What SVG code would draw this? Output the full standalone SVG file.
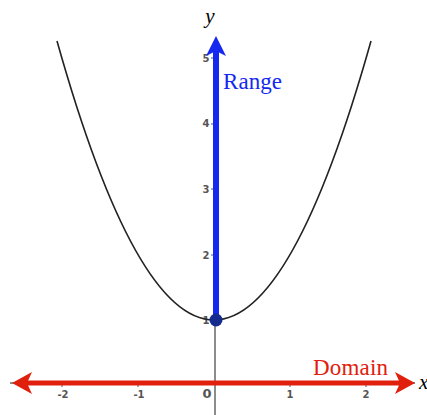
<svg xmlns="http://www.w3.org/2000/svg" width="427" height="415" viewBox="0 0 427 415">
<style>
.tick{font-family:"DejaVu Sans",sans-serif;font-size:10px;font-weight:bold;fill:#555}
.axis{stroke:#666;stroke-width:1.5;fill:none}
.tm{stroke:#555;stroke-width:1}
.lbl{font-family:"Liberation Serif",serif;font-size:23px}
</style>
<rect width="427" height="415" fill="#fff"/>
<g id="axes">
<line class="axis" x1="215" y1="40" x2="215" y2="415"/>
<line class="axis" x1="10" y1="383" x2="415" y2="383"/>
<g class="tm">
<line x1="62" y1="383" x2="62" y2="387"/>
<line x1="138" y1="383" x2="138" y2="387"/>
<line x1="290" y1="383" x2="290" y2="387"/>
<line x1="366" y1="383" x2="366" y2="387"/>
<line x1="211" y1="58" x2="215" y2="58"/>
<line x1="211" y1="124" x2="215" y2="124"/>
<line x1="211" y1="189" x2="215" y2="189"/>
<line x1="211" y1="255" x2="215" y2="255"/>
<line x1="211" y1="320" x2="215" y2="320"/>
</g>
<text class="tick" x="63" y="398" text-anchor="middle">-2</text>
<text class="tick" x="139" y="398" text-anchor="middle">-1</text>
<text class="tick" x="290" y="398" text-anchor="middle">1</text>
<text class="tick" x="366" y="398" text-anchor="middle">2</text>
<text class="tick" x="207" y="398" text-anchor="middle" style="font-size:13px">0</text>
<text class="tick" x="206" y="62" text-anchor="middle">5</text>
<text class="tick" x="206" y="127" text-anchor="middle">4</text>
<text class="tick" x="206" y="193" text-anchor="middle">3</text>
<text class="tick" x="206" y="259" text-anchor="middle">2</text>
<text class="tick" x="206" y="324" text-anchor="middle">1</text>
<text class="lbl" x="210" y="23" text-anchor="middle" font-style="italic" style="font-size:21px">y</text>
<text class="lbl" x="419" y="389" font-style="italic" style="font-size:21px">x</text>
</g>
<g id="curve">
<path d="M57,41 Q214,599 371,41" fill="none" stroke="#222" stroke-width="1.6"/>
</g>
<g id="domain">
<line x1="24" y1="383" x2="404" y2="383" stroke="#e0200c" stroke-width="5"/>
<path d="M12,383 L32,372 L27,383 L32,394 Z" fill="#e0200c"/>
<path d="M415,383 L395,372 L400,383 L395,394 Z" fill="#e0200c"/>
<text class="lbl" x="313" y="375" fill="#e0200c" textLength="75">Domain</text>
</g>
<g id="range">
<line x1="216" y1="320" x2="216" y2="48" stroke="#1428f0" stroke-width="6"/>
<path d="M216,36 L226,56 L216,51 L206,56 Z" fill="#1428f0"/>
<text class="lbl" x="223" y="89" fill="#1428f0" textLength="59">Range</text>
<circle cx="216" cy="320" r="6.5" fill="#142a8c"/>
</g>
</svg>
